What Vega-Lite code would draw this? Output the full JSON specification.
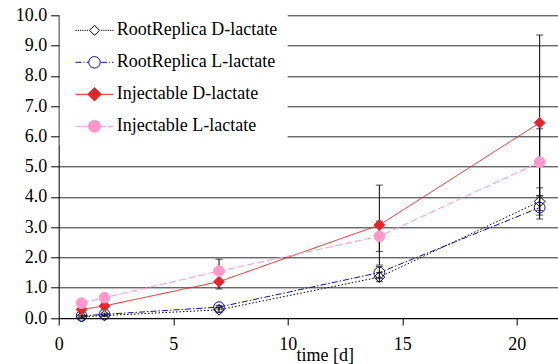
{
  "$schema": "https://vega.github.io/schema/vega-lite/v6.json",
  "width": 499.3,
  "height": 302.7,
  "autosize": {"type": "none"},
  "padding": {"left": 58.7, "top": 15.3, "right": 0, "bottom": 46},
  "background": "white",
  "config": {"view": {"stroke": null}, "font": "Liberation Serif, Noto Serif, DejaVu Serif, Times New Roman, serif"},
  "data": {
    "values": [
      {"series": "RootReplica D-lactate", "t": 1, "v": 0.04, "err": 0.03},
      {"series": "RootReplica D-lactate", "t": 2, "v": 0.08, "err": 0.03},
      {"series": "RootReplica D-lactate", "t": 7, "v": 0.27, "err": 0.08},
      {"series": "RootReplica D-lactate", "t": 14, "v": 1.35, "err": 0.15},
      {"series": "RootReplica D-lactate", "t": 21, "v": 3.85, "err": 0.45},
      {"series": "RootReplica L-lactate", "t": 1, "v": 0.07, "err": 0.03},
      {"series": "RootReplica L-lactate", "t": 2, "v": 0.12, "err": 0.04},
      {"series": "RootReplica L-lactate", "t": 7, "v": 0.36, "err": 0.06},
      {"series": "RootReplica L-lactate", "t": 14, "v": 1.5, "err": 0.2},
      {"series": "RootReplica L-lactate", "t": 21, "v": 3.65, "err": 0.38},
      {"series": "Injectable D-lactate", "t": 1, "v": 0.28, "err": 0.08},
      {"series": "Injectable D-lactate", "t": 2, "v": 0.4, "err": 0.1},
      {"series": "Injectable D-lactate", "t": 7, "v": 1.2, "err": 0.24},
      {"series": "Injectable D-lactate", "t": 14, "v": 3.07, "err": 1.32},
      {"series": "Injectable D-lactate", "t": 21, "v": 6.45, "err": 2.9},
      {"series": "Injectable L-lactate", "t": 1, "v": 0.49, "err": 0.05},
      {"series": "Injectable L-lactate", "t": 2, "v": 0.67, "err": 0.06},
      {"series": "Injectable L-lactate", "t": 7, "v": 1.55, "err": 0.39},
      {"series": "Injectable L-lactate", "t": 14, "v": 2.7, "err": 0.5},
      {"series": "Injectable L-lactate", "t": 21, "v": 5.15, "err": 1.1}
    ]
  },
  "encoding": {
    "x": {
      "field": "t", "type": "quantitative",
      "scale": {"domain": [0, 21.8], "nice": false, "zero": false},
      "axis": {
        "values": [0, 5, 10, 15, 20], "grid": false, "format": "d",
        "domainColor": "black", "tickColor": "black", "tickSize": 7,
        "labelFont": "Liberation Serif, Noto Serif, DejaVu Serif, Times New Roman, serif", "labelFontSize": 18, "labelColor": "black",
        "labelBaseline": "alphabetic", "labelPadding": 24, "labelFlush": false,
        "title": "time [d]", "titleFont": "Liberation Serif, Noto Serif, DejaVu Serif, Times New Roman, serif", "titleFontSize": 18,
        "titleFontWeight": "normal", "titleColor": "black",
        "titleX": 266, "titleY": 42, "titleBaseline": "alphabetic", "titleAlign": "center"
      }
    },
    "y": {
      "field": "v", "type": "quantitative",
      "scale": {"domain": [0, 10], "nice": false},
      "axis": {
        "values": [0, 1, 2, 3, 4, 5, 6, 7, 8, 9, 10], "format": ".1f",
        "grid": true, "gridColor": "#2a2a2a", "gridWidth": 1,
        "domainColor": "black", "tickColor": "black", "tickSize": 8,
        "labelFont": "Liberation Serif, Noto Serif, DejaVu Serif, Times New Roman, serif", "labelFontSize": 18, "labelColor": "black",
        "labelPadding": 4, "labelFlush": false, "title": null
      }
    }
  },
  "resolve": {"scale": {"shape": "independent", "fill": "independent", "size": "independent", "stroke": "independent"}},
  "layer": [
    {
      "mark": {"type": "errorbar", "ticks": {"size": 7, "color": "black", "strokeWidth": 1}, "rule": {"color": "black", "strokeWidth": 1}, "color": "black"},
      "encoding": {"yError": {"field": "err"}}
    },
    {
      "mark": {"type": "line", "strokeWidth": 1},
      "encoding": {
        "color": {
          "field": "series", "type": "nominal",
          "scale": {"domain": ["RootReplica D-lactate", "RootReplica L-lactate", "Injectable D-lactate", "Injectable L-lactate"], "range": ["#000000", "#10109a", "#e4262b", "#ff99cc"]},
          "legend": null
        },
        "strokeDash": {
          "field": "series", "type": "nominal",
          "scale": {"domain": ["RootReplica D-lactate", "RootReplica L-lactate", "Injectable D-lactate", "Injectable L-lactate"], "range": [[1.5, 2], [6, 2, 1.5, 2], [1, 0], [7, 3]]},
          "legend": null
        }
      }
    },
    {
      "mark": {"type": "point", "strokeWidth": 1, "opacity": 1, "filled": false},
      "encoding": {
        "color": {"field": "series", "type": "nominal", "legend": null},
        "shape": {
          "field": "series", "type": "nominal",
          "scale": {"domain": ["RootReplica D-lactate", "RootReplica L-lactate", "Injectable D-lactate", "Injectable L-lactate"], "range": ["diamond", "circle", "diamond", "circle"]},
          "legend": null
        },
        "fill": {
          "field": "series", "type": "nominal",
          "scale": {"domain": ["RootReplica D-lactate", "RootReplica L-lactate", "Injectable D-lactate", "Injectable L-lactate"], "range": ["transparent", "transparent", "#e4262b", "#ff99cc"]},
          "legend": null
        },
        "size": {
          "field": "series", "type": "nominal",
          "scale": {"domain": ["RootReplica D-lactate", "RootReplica L-lactate", "Injectable D-lactate", "Injectable L-lactate"], "range": [115, 115, 150, 150]},
          "legend": null
        }
      }
    },
    {
      "transform": [{"filter": "datum.t > 100"}],
      "mark": {"type": "point", "strokeWidth": 1, "opacity": 1, "size": 100},
      "encoding": {
        "stroke": {
          "field": "series", "type": "nominal",
          "scale": {"domain": ["RootReplica D-lactate", "RootReplica L-lactate", "Injectable D-lactate", "Injectable L-lactate"], "range": ["#000000", "#10109a", "#e4262b", "#ff99cc"]},
          "legend": {
            "title": null, "orient": "none", "legendX": 1, "legendY": -4,
            "fillColor": "white", "padding": 10, "symbolSize": 100, "symbolStrokeWidth": 1,
            "symbolOffset": 15.8, "labelOffset": 13.3, "labelFont": "Liberation Serif, Noto Serif, DejaVu Serif, Times New Roman, serif",
            "labelFontSize": 18, "labelColor": "black", "rowPadding": 14, "labelLimit": 0, "symbolOpacity": 1
          }
        },
        "shape": {
          "field": "series", "type": "nominal",
          "scale": {"domain": ["RootReplica D-lactate", "RootReplica L-lactate", "Injectable D-lactate", "Injectable L-lactate"], "range": [
            "M-3.8,0L-3.55,0M-3.35,0L-3.1,0M-2.9,0L-2.65,0M-2.45,0L-2.2,0M-2,0L-1.75,0M-1.55,0L-1.3,0M1.3,0L1.55,0M1.75,0L2,0M2.2,0L2.45,0M2.65,0L2.9,0M3.1,0L3.35,0M3.55,0L3.8,0M0,-1L1,0L0,1L-1,0Z",
            "M-3.8,0L-2.6,0M-2.2,0L-2,0M-1.6,0L-1.15,0M1.3,0L2.5,0M2.9,0L3.1,0M3.5,0L3.8,0M-1.15,0A1.15,1.15 0 1,1 1.15,0A1.15,1.15 0 1,1 -1.15,0Z",
            "M-3.8,0L3.8,0M0,-1.35L1.35,0L0,1.35L-1.35,0Z",
            "M-3.8,0L-2.7,0M-2.3,0L-1.2,0M1.2,0L2.3,0M2.7,0L3.8,0M-1.2,0A1.2,1.2 0 1,1 1.2,0A1.2,1.2 0 1,1 -1.2,0Z"
          ]},
          "legend": {
            "title": null, "orient": "none", "legendX": 1, "legendY": -4,
            "fillColor": "white", "padding": 10, "symbolSize": 100, "symbolStrokeWidth": 1,
            "symbolOffset": 15.8, "labelOffset": 13.3, "labelFont": "Liberation Serif, Noto Serif, DejaVu Serif, Times New Roman, serif",
            "labelFontSize": 18, "labelColor": "black", "rowPadding": 14, "labelLimit": 0, "symbolOpacity": 1
          }
        },
        "fill": {
          "field": "series", "type": "nominal",
          "scale": {"domain": ["RootReplica D-lactate", "RootReplica L-lactate", "Injectable D-lactate", "Injectable L-lactate"], "range": ["white", "white", "#e4262b", "#ff99cc"]},
          "legend": {
            "title": null, "orient": "none", "legendX": 1, "legendY": -4,
            "fillColor": "white", "padding": 10, "symbolSize": 100, "symbolStrokeWidth": 1,
            "symbolOffset": 15.8, "labelOffset": 13.3, "labelFont": "Liberation Serif, Noto Serif, DejaVu Serif, Times New Roman, serif",
            "labelFontSize": 18, "labelColor": "black", "rowPadding": 14, "labelLimit": 0, "symbolOpacity": 1
          }
        }
      }
    }
  ]
}
